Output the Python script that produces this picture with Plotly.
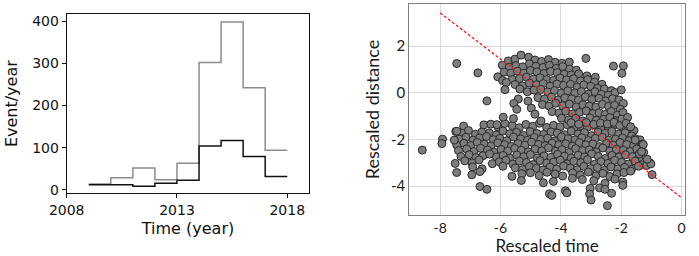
import plotly.graph_objects as go

# ---------------- Left panel data (step histogram) ----------------
years = [2009, 2010, 2011, 2012, 2013, 2014, 2015, 2016, 2017, 2018]
all_events = [14, 29, 52, 24, 63, 302, 398, 242, 94]
subset_events = [12, 12, 9, 16, 23, 104, 117, 79, 32]
left_xticks = [2008, 2013, 2018]
left_yticks = [0, 100, 200, 300, 400]

# ---------------- Right panel data (scatter) ----------------
rescaled_time = [
    # lower cluster rows
    -7.22, -6.55, -6.32, -6.08, -5.86, -5.61, -5.38, -5.16, -4.93, -4.71, -4.47, -4.24, -4.02, -3.79, -3.57, -3.33, -3.12, -2.88, -2.67, -2.44, -2.21, -1.97, -1.76, -1.58,
    -7.48, -7.27, -7.06, -6.83, -6.62, -6.37, -6.14, -5.92, -5.69, -5.47, -5.24, -5.02, -4.79, -4.57, -4.33, -4.12, -3.88, -3.66, -3.43, -3.22, -2.98, -2.77, -2.53, -2.31, -2.09, -1.87, -1.66,
    -7.36, -7.14, -6.91, -6.69, -6.46, -6.24, -6.02, -5.79, -5.57, -5.33, -5.11, -4.88, -4.66, -4.44, -4.21, -3.98, -3.76, -3.53, -3.31, -3.08, -2.86, -2.63, -2.41, -2.19, -1.96, -1.74, -1.54, -1.38,
    -7.45, -7.21, -6.99, -6.77, -6.54, -6.31, -6.09, -5.86, -5.64, -5.42, -5.19, -4.97, -4.74, -4.52, -4.29, -4.07, -3.84, -3.62, -3.39, -3.17, -2.94, -2.72, -2.49, -2.27, -2.04, -1.82, -1.59, -1.30,
    -7.39, -7.12, -6.88, -6.66, -6.43, -6.21, -5.98, -5.76, -5.53, -5.31, -5.08, -4.86, -4.63, -4.41, -4.18, -3.96, -3.73, -3.51, -3.28, -3.06, -2.83, -2.61, -2.38, -2.16, -1.93, -1.71, -1.49, -1.26,
    -7.31, -7.04, -6.81, -6.58, -6.36, -6.13, -5.91, -5.68, -5.46, -5.23, -5.01, -4.78, -4.56, -4.33, -4.11, -3.88, -3.66, -3.43, -3.21, -2.98, -2.76, -2.53, -2.31, -2.08, -1.86, -1.63, -1.42,
    -7.18, -6.94, -6.71, -6.27, -6.04, -5.82, -5.59, -5.37, -5.14, -4.92, -4.69, -4.47, -4.24, -4.02, -3.79, -3.57, -3.34, -3.12, -2.89, -2.67, -2.44, -2.22, -1.99, -1.77, -1.54, -1.31, -1.06,
    -6.92, -6.61, -5.92, -5.51, -5.27, -5.04, -4.81, -4.59, -4.36, -4.14, -3.91, -3.69, -3.46, -3.24, -3.01, -2.79, -2.56, -2.34, -2.11, -1.89, -1.66, -1.43, -1.16,
    -7.45, -6.95, -6.68, -5.62, -5.29, -5.01, -4.72, -4.46, -4.19, -3.94, -3.61, -3.36, -3.09, -2.84, -2.61, -2.38, -2.14, -1.91, -1.69, -0.98,
    -5.31, -4.58, -4.25, -3.62, -3.29, -2.91, -2.54, -2.21, -1.95,
    -6.68, -6.45, -4.38, -4.30, -3.85, -3.80, -3.03, -3.05, -3.00, -2.72, -2.46, -2.32, -2.54, -1.95, -7.50, -8.59,
    -7.92, -7.94, -7.53, -7.45,
    -1.27, -1.02, -1.14, -1.40, -1.54, -1.33,
    # upper cluster rows
    -5.74, -5.52, -5.32, -5.07, -4.86, -4.64, -4.41, -4.19, -3.96, -3.72, -3.17,
    -5.94, -5.71, -5.49, -5.26, -5.04, -4.83, -4.59, -4.38, -4.16, -3.94, -3.71, -3.49, -2.26, -1.93,
    -5.88, -5.66, -5.44, -5.23, -5.01, -4.79, -4.56, -4.34, -4.12, -3.89, -3.66, -3.41, -3.14, -2.86, -1.98,
    -6.09, -5.93, -5.61, -5.37, -5.14, -4.91, -4.69, -4.47, -4.24, -4.03, -3.81, -3.58, -3.35, -3.11, -2.89, -2.64,
    -5.81, -5.52, -5.27, -5.04, -4.81, -4.58, -4.36, -4.13, -3.91, -3.68, -3.46, -3.24, -3.01, -2.79, -2.56, -2.33,
    -5.85, -5.36, -5.11, -4.89, -4.66, -4.44, -4.21, -3.99, -3.77, -3.54, -3.32, -3.09, -2.87, -2.66, -2.43, -2.21, -2.00,
    -5.41, -5.09, -4.76, -4.54, -4.31, -4.09, -3.87, -3.64, -3.42, -3.19, -2.97, -2.74, -2.52, -2.29, -2.08, -1.93,
    -5.56, -4.98, -4.61, -4.39, -4.17, -3.94, -3.72, -3.49, -3.27, -3.06, -2.84, -2.62, -2.42, -2.22, -2.03,
    -5.46, -4.86, -4.29, -4.06, -3.84, -3.61, -3.38, -3.16, -2.94, -2.73, -2.53, -2.33, -2.13, -1.94,
    -5.91, -5.57, -4.66, -3.98, -3.74, -3.51, -3.28, -3.04, -2.83, -2.59, -2.38, -2.18, -1.98, -1.79,
    -3.66, -3.41, -3.16, -2.91, -2.69, -2.46, -2.24, -2.05, -1.84, -1.69,
    -7.45, -6.75, -6.45, -6.12,
]
rescaled_distance = [
    -1.43, -1.38, -1.35, -1.47, -1.32, -1.41, -1.50, -1.36, -1.44, -1.31, -1.49, -1.40, -1.46, -1.37, -1.52, -1.42, -1.48, -1.39, -1.51, -1.44, -1.36, -1.47, -1.55, -1.62,
    -1.66, -1.74, -1.62, -1.78, -1.69, -1.72, -1.81, -1.64, -1.76, -1.70, -1.83, -1.67, -1.75, -1.79, -1.68, -1.73, -1.80, -1.65, -1.77, -1.71, -1.84, -1.69, -1.74, -1.66, -1.78, -1.72, -1.85,
    -1.99, -1.91, -2.03, -1.94, -1.88, -2.01, -1.96, -2.06, -1.90, -1.98, -2.04, -1.92, -2.00, -1.95, -2.07, -1.89, -1.97, -2.02, -1.93, -2.05, -1.96, -1.91, -2.03, -1.99, -1.94, -2.06, -1.97, -2.02,
    -2.24, -2.17, -2.26, -2.13, -2.21, -2.28, -2.15, -2.23, -2.30, -2.18, -2.25, -2.12, -2.22, -2.27, -2.16, -2.24, -2.19, -2.29, -2.14, -2.23, -2.20, -2.31, -2.17, -2.25, -2.13, -2.22, -2.27, -2.20,
    -2.48, -2.41, -2.52, -2.38, -2.46, -2.55, -2.43, -2.50, -2.39, -2.47, -2.53, -2.42, -2.49, -2.36, -2.51, -2.44, -2.56, -2.40, -2.48, -2.45, -2.54, -2.37, -2.50, -2.43, -2.47, -2.52, -2.41, -2.55,
    -2.73, -2.66, -2.78, -2.70, -2.63, -2.76, -2.69, -2.81, -2.67, -2.74, -2.65, -2.79, -2.71, -2.77, -2.64, -2.72, -2.80, -2.68, -2.75, -2.62, -2.73, -2.82, -2.69, -2.76, -2.66, -2.74, -2.79,
    -2.92, -3.01, -2.88, -3.04, -2.96, -2.90, -3.06, -2.93, -2.99, -3.08, -2.91, -3.02, -2.97, -2.89, -3.05, -2.94, -3.00, -2.87, -3.07, -2.95, -3.03, -2.90, -2.98, -3.06, -2.93, -3.09, -3.00,
    -3.18, -3.26, -3.15, -3.22, -3.29, -3.17, -3.24, -3.31, -3.19, -3.27, -3.14, -3.23, -3.30, -3.16, -3.25, -3.21, -3.33, -3.18, -3.26, -3.20, -3.28, -3.15, -3.12,
    -3.42, -3.52, -3.38, -3.58, -3.47, -3.43, -3.55, -3.41, -3.49, -3.57, -3.44, -3.53, -3.40, -3.56, -3.46, -3.59, -3.48, -3.42, -3.36, -3.51,
    -3.76, -3.86, -3.80, -3.67, -3.72, -3.77, -3.88, -3.70, -3.83,
    -4.02, -4.14, -4.33, -4.40, -4.20, -4.29, -4.10, -4.34, -4.60, -4.08, -4.84, -4.31, -4.14, -3.97, -3.03, -2.46,
    -1.99, -2.18, -2.03, -1.65,
    -2.22, -3.05, -2.85, -2.62, -2.03, -2.53,
    1.36, 1.44, 1.61, 1.52, 1.40, 1.34, 1.42, 1.30, 1.26, 1.31, 1.47,
    1.18, 1.09, 1.16, 1.11, 1.24, 1.13, 1.08, 1.17, 1.04, 1.12, 1.01, 0.96, 1.14, 1.15,
    0.88, 0.84, 0.92, 0.83, 0.95, 0.89, 0.82, 0.91, 0.86, 0.79, 0.76, 0.81, 0.72, 0.66, 0.83,
    0.68, 0.52, 0.57, 0.61, 0.66, 0.58, 0.64, 0.56, 0.53, 0.63, 0.55, 0.60, 0.51, 0.56, 0.45, 0.36,
    0.44, 0.35, 0.29, 0.41, 0.34, 0.39, 0.28, 0.37, 0.31, 0.36, 0.24, 0.33, 0.27, 0.19, 0.16, 0.09,
    0.13, 0.16, 0.04, 0.11, 0.14, 0.03, 0.09, -0.02, 0.08, -0.01, 0.05, -0.06, 0.04, -0.07, -0.11, 0.01, 0.12,
    -0.27, -0.36, -0.21, -0.27, -0.19, -0.31, -0.22, -0.26, -0.32, -0.18, -0.29, -0.24, -0.35, -0.26, -0.31, -0.46,
    -0.46, -0.66, -0.51, -0.57, -0.45, -0.56, -0.49, -0.61, -0.52, -0.57, -0.62, -0.50, -0.59, -0.54, -0.71,
    -0.71, -0.92, -0.81, -0.87, -0.79, -0.91, -0.84, -0.78, -0.90, -0.86, -0.93, -0.80, -0.96, -0.85,
    -1.05, -1.11, -1.21, -1.09, -1.16, -1.10, -1.21, -1.08, -1.19, -1.14, -1.07, -1.20, -1.13, -1.06,
    -1.29, -1.35, -1.28, -1.36, -1.30, -1.34, -1.27, -1.41, -1.31, -1.46,
    1.25, 0.85, -0.35, -1.37,
]
fit_time = [-8, 0]
fit_distance = [3.42, -4.5]
right_xticks = [-8, -6, -4, -2, 0]
right_yticks = [-4, -2, 0, 2]

W, H = 699, 256

fig = go.Figure()

# left: step lines (value repeated at the right edge)
fig.add_trace(go.Scatter(
    x=years, y=all_events + [all_events[-1]], mode="lines", line_shape="hv",
    line=dict(color="#8c8c8c", width=1.5), xaxis="x", yaxis="y", showlegend=False))
fig.add_trace(go.Scatter(
    x=years, y=subset_events + [subset_events[-1]], mode="lines", line_shape="hv",
    line=dict(color="#111111", width=1.5), xaxis="x", yaxis="y", showlegend=False))

# right: scatter + fit line
fig.add_trace(go.Scatter(
    x=rescaled_time, y=rescaled_distance, mode="markers",
    marker=dict(size=8, color="#7d7d7d", line=dict(color="#2b2b2b", width=1)),
    xaxis="x2", yaxis="y2", showlegend=False))
fig.add_trace(go.Scatter(
    x=fit_time, y=fit_distance, mode="lines",
    line=dict(color="#ff1a1a", width=1.3, dash="3px,2px"),
    xaxis="x2", yaxis="y2", showlegend=False))

lfont = dict(family="DejaVu Sans", size=14, color="#111111")
rfont = dict(family="Lato", size=15, color="#1a1a1a")
rxfont = dict(family="Lato", size=14, color="#1a1a1a")

fig.update_layout(
    width=W, height=H,
    margin=dict(l=0, r=0, t=0, b=0),
    paper_bgcolor="white", plot_bgcolor="white",
    xaxis=dict(
        domain=[66.7 / W, 309.3 / W], range=[2008, 2019], automargin=False,
        tickvals=left_xticks, ticktext=[str(v) for v in left_xticks],
        ticks="outside", ticklen=4, tickcolor="#111", tickwidth=1,
        showline=True, linecolor="#111", linewidth=1, mirror=True,
        showgrid=False, zeroline=False, tickfont=lfont,
        title=dict(text="Time (year)", font=dict(family="DejaVu Sans", size=16, color="#111"), standoff=5),
        anchor="y"),
    yaxis=dict(
        domain=[1 - 193.3 / H, 1 - 14 / H], range=[-8, 417], automargin=False,
        tickvals=left_yticks,
        ticks="outside", ticklen=4, tickcolor="#111", tickwidth=1,
        showline=True, linecolor="#111", linewidth=1, mirror=True,
        showgrid=False, zeroline=False, tickfont=lfont,
        title=dict(text="Event/year", font=dict(family="DejaVu Sans", size=16, color="#111"), standoff=10),
        anchor="x"),
    xaxis2=dict(
        domain=[409.3 / W, 685 / W], range=[-9.02, 0.11], automargin=False,
        tickvals=right_xticks, ticktext=["-8", "-6", "-4", "-2", "0"],
        ticks="", showline=True, linecolor="#7f7f7f", linewidth=1.2, mirror=True,
        showgrid=True, gridcolor="#d9d9d9", gridwidth=1, zeroline=False, tickfont=rxfont,
        title=dict(text="Rescaled time", font=dict(family="Lato", size=17, color="#1a1a1a"), standoff=9),
        anchor="y2"),
    yaxis2=dict(
        domain=[1 - 215 / H, 1 - 4 / H], range=[-5.24, 3.8], automargin=False,
        tickvals=right_yticks, ticktext=["-4", "-2", "0", "2"],
        ticks="", showline=True, linecolor="#7f7f7f", linewidth=1.2, mirror=True,
        showgrid=True, gridcolor="#d9d9d9", gridwidth=1, zeroline=False, tickfont=rfont,
        title=dict(text="Rescaled distance", font=dict(family="Lato", size=18, color="#1a1a1a"), standoff=6),
        anchor="x2"),
)

fig.write_html("out.html", config={"displayModeBar": False},
               post_script="document.body.style.margin='0px';")
